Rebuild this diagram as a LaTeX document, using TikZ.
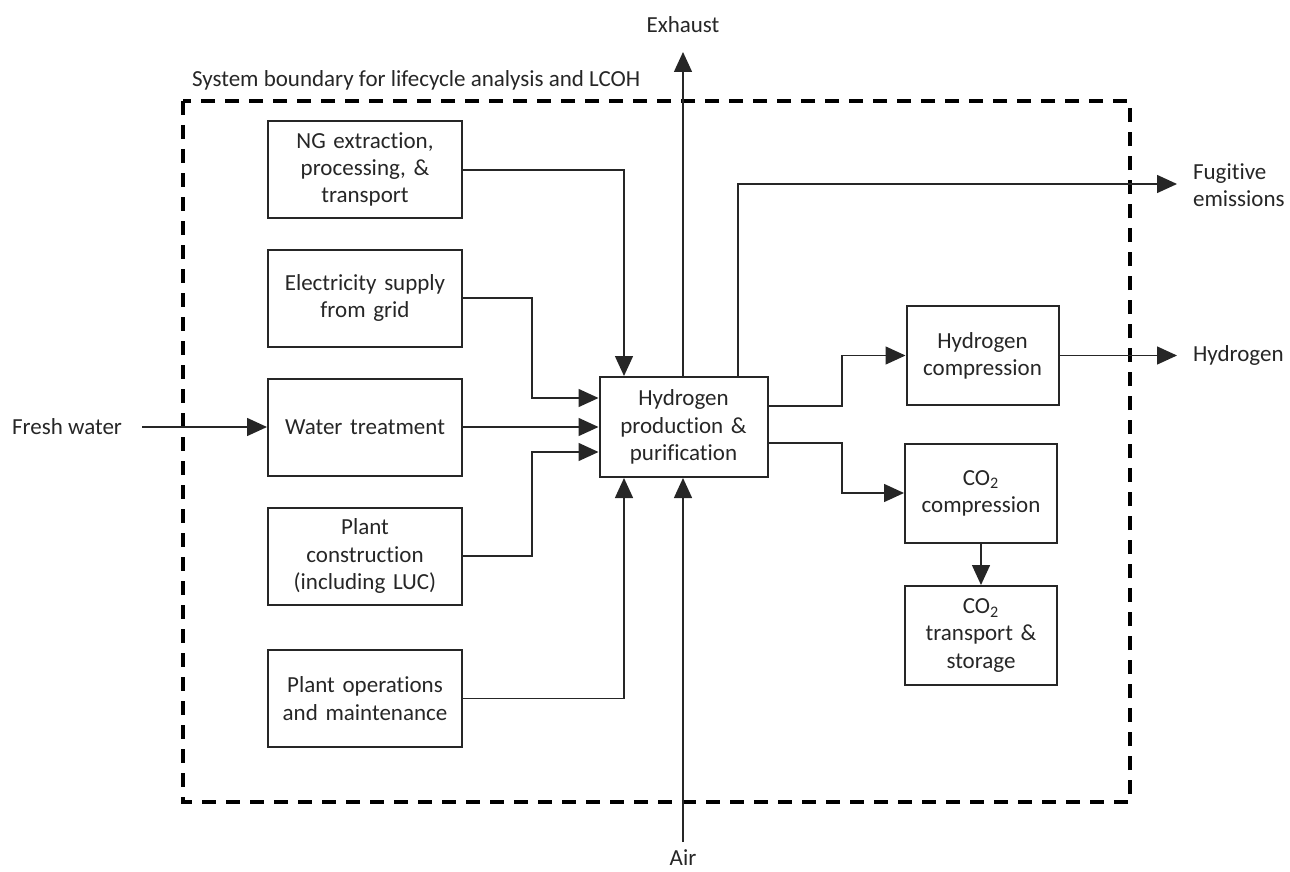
\documentclass[tikz,border=0pt]{standalone}
\usepackage{fontspec}
\setmainfont[RawFeature={-liga;-clig;-calt;-dlig}]{Carlito}
\usetikzlibrary{arrows.meta,calc}
\newcommand{\tiX}{t\kern0pt i}
\begin{document}
\begin{tikzpicture}[x=0.5pt,y=-0.5pt,
  font=\fontsize{11.5pt}{13.6pt}\selectfont,
  txt/.style={text=black!85},
  blk/.style={draw=black!85,line width=1pt,rectangle,align=center,inner sep=2pt,text=black!85},
  lbox/.style={blk,minimum width=97pt,minimum height=48.5pt,text width=92pt},
  rbox/.style={blk,minimum width=75.5pt,minimum height=49.5pt,text width=72pt},
  conn/.style={draw=black!85,line width=0.75pt},
  arr/.style={conn,-{Triangle[length=10pt,width=9pt]}},
  bound/.style={draw=black,line width=2pt,dash pattern=on 7pt off 5pt}
]
\useasboundingbox (0,0) rectangle (1290,872);

% boundary
\draw[bound] (183,101) rectangle (1130,802);
\node[txt,anchor=west] (sb) at (185,80) {System boundary for lifecycle analysis and LCOH};

% left boxes
\node[lbox] (ng) at (365,169.5) {NG extrac\tiX on,\\processing, \&\\transport};
\node[lbox] (el) at (365,298) {Electricity supply\\from grid};
\node[lbox] (wt) at (365,427) {Water treatment};
\node[lbox] (pc) at (365,556) {Plant\\construc\tiX on\\(including LUC)};
\node[lbox] (po) at (365,698.5) {Plant operations\\and maintenance};

% center
\node[blk,minimum width=82.5pt,minimum height=50pt,text width=80pt] (hp) at (683.5,427) {Hydrogen\\production \&\\purifica\tiX on};

% right boxes
\node[rbox] (h2c) at (982.5,355.5) {Hydrogen\\compression};
\node[rbox] (co2c) at (981,493) {CO\textsubscript{2}\\compression};
\node[rbox] (co2t) at (981,635.5) {CO\textsubscript{2}\\transport \&\\storage};

% external labels
\node[txt,anchor=west] (fw) at (5,427) {Fresh water};
\node[txt] (ex) at (683,25) {Exhaust};
\node[txt] (air) at (683,858) {Air};
\node[txt,anchor=west,align=left] (fe) at (1186,185) {Fugi\tiX ve\\emissions};
\node[txt,anchor=west] (hy) at (1186,355.5) {Hydrogen};

% helper coordinates
\coordinate (xa) at (624,0);
\coordinate (xb) at (532,0);
\coordinate (xc) at (683,0);
\coordinate (xd) at (738,0);
\coordinate (xe) at (842,0);
\coordinate (xt) at (1177,0);
\coordinate (ya) at (0,398);
\coordinate (yb) at (0,452);
\coordinate (yc) at (0,406);
\coordinate (yd) at (0,443);
\coordinate (yf) at (0,184);
\coordinate (fwS) at (142,427);
\coordinate (exT) at (683,52);
\coordinate (airS) at (683,842);

% connectors
\draw[arr] (ng.east |- 0,170) -| (xa |- hp.north);
\draw[arr] (el.east) -| (xb |- ya) -- (hp.west |- ya);
\draw[arr] (wt.east) -- (hp.west);
\draw[arr] (pc.east) -| (xb |- yb) -- (hp.west |- yb);
\draw[arr] (po.east) -| (xa |- hp.south);
\draw[arr] (airS) -- (xc |- hp.south);
\draw[arr] (xc |- hp.north) -- (exT);
\draw[arr] (xd |- hp.north) |- (xt |- yf);
\draw[arr] (hp.east |- yc) -| (xe |- h2c.west) -- (h2c.west);
\draw[arr] (hp.east |- yd) -| (xe |- co2c.west) -- (co2c.west);
\draw[arr] (co2c.south) -- (co2t.north);
\draw[arr] (h2c.east) -- (xt |- h2c.east);
\draw[arr] (fwS) -- (wt.west);
\end{tikzpicture}
\end{document}
